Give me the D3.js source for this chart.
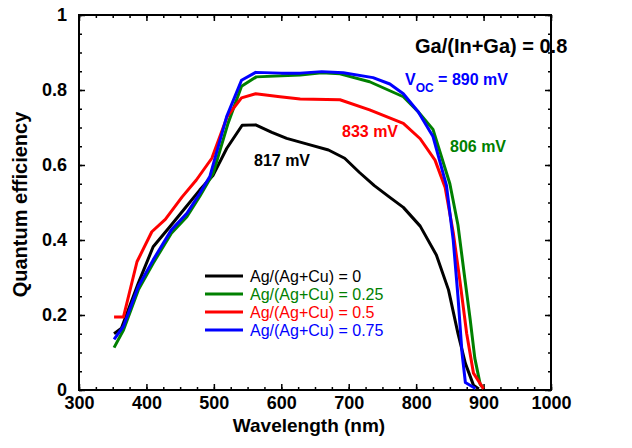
<!DOCTYPE html>
<html>
<head>
<meta charset="utf-8">
<script src="https://cdn.jsdelivr.net/npm/d3@7"></script>
<style>
  body { margin: 0; background: #fff; }
  svg { font-family: Arial, "Liberation Sans", sans-serif; }
</style>
</head>
<body>
<div id="chart"></div>
<script>
// quantum efficiency curves, [wavelength nm, QE]
var ag0 = [[352,0.15],[363,0.165],[388,0.285],[410,0.382],[435,0.436],[455,0.48],[479,0.533],[499,0.573],
  [519,0.644],[542,0.706],[562,0.707],[586,0.687],[608,0.671],[640,0.655],[670,0.64],[694,0.618],[716,0.58],
  [738,0.545],[760,0.515],[781,0.487],[806,0.437],[830,0.36],[848,0.267],[862,0.151],[873,0.071],[885,0.013],[893,0.003]];
var ag25 = [[352,0.113],[366,0.16],[388,0.267],[410,0.338],[437,0.418],[460,0.462],[479,0.516],[499,0.578],
  [521,0.711],[541,0.81],[563,0.835],[628,0.84],[660,0.846],[687,0.843],[731,0.822],[781,0.782],[803,0.742],
  [825,0.695],[850,0.55],[862,0.44],[872,0.3],[880,0.19],[887,0.085],[895,0.015],[900,0.005]];
var ag50 = [[352,0.195],[366,0.195],[386,0.342],[408,0.422],[428,0.455],[453,0.515],[474,0.56],[497,0.618],
  [520,0.73],[541,0.779],[562,0.79],[598,0.782],[628,0.776],[687,0.774],[731,0.747],[781,0.711],[806,0.67],
  [828,0.613],[843,0.54],[855,0.42],[865,0.29],[875,0.15],[885,0.045],[900,0.003]];
var ag75 = [[352,0.135],[366,0.17],[388,0.276],[410,0.347],[437,0.427],[460,0.471],[479,0.524],[494,0.569],
  [519,0.729],[541,0.826],[562,0.847],[600,0.845],[628,0.845],[660,0.849],[692,0.846],[736,0.833],[761,0.816],
  [781,0.79],[803,0.742],[825,0.676],[845,0.545],[855,0.4],[862,0.25],[868,0.1],[873,0.02],[888,0.004]];

var seriesNames = ["Ag/(Ag+Cu) = 0", "Ag/(Ag+Cu) = 0.25", "Ag/(Ag+Cu) = 0.5", "Ag/(Ag+Cu) = 0.75"];
var seriesData = [ag0, ag25, ag50, ag75];
var colors = ["#000000", "#008000", "#ff0000", "#0000ff"];

var xTicks = [300, 400, 500, 600, 700, 800, 900, 1000];
var yTicks = [0, 0.2, 0.4, 0.6, 0.8, 1];

var margin = { top: 15, right: 81, bottom: 58, left: 79 },
    width = 632 - margin.left - margin.right,
    height = 448 - margin.top - margin.bottom;

var x = d3.scaleLinear().domain([300, 1000]).range([0, width]);
var y = d3.scaleLinear().domain([0, 1]).range([height, 0]);

var svg = d3.select("#chart").append("svg")
    .attr("width", 632).attr("height", 448)
  .append("g")
    .attr("transform", "translate(" + margin.left + "," + margin.top + ")");

var minorX = d3.range(300, 1001, 25), minorY = d3.range(0, 1.001, 0.05);

function styleAxis(g) {
  g.select(".domain").remove();
  g.selectAll(".tick line").attr("stroke", "#000").attr("stroke-width", 1.5);
  g.selectAll("text").attr("font-size", 18).attr("font-weight", "bold").attr("fill", "#000");
}

// minor ticks, all four sides
svg.append("g").attr("transform", "translate(0," + height + ")")
  .call(d3.axisBottom(x).tickValues(minorX).tickSize(-3).tickFormat("")).call(styleAxis);
svg.append("g")
  .call(d3.axisTop(x).tickValues(minorX).tickSize(-3).tickFormat("")).call(styleAxis);
svg.append("g")
  .call(d3.axisLeft(y).tickValues(minorY).tickSize(-3).tickFormat("")).call(styleAxis);
svg.append("g").attr("transform", "translate(" + width + ",0)")
  .call(d3.axisRight(y).tickValues(minorY).tickSize(-3).tickFormat("")).call(styleAxis);

// major ticks with labels
svg.append("g").attr("transform", "translate(0," + height + ")")
  .call(d3.axisBottom(x).tickValues(xTicks).tickSize(-6).tickPadding(6).tickFormat(d3.format("d"))).call(styleAxis);
svg.append("g")
  .call(d3.axisLeft(y).tickValues(yTicks).tickSize(-6).tickPadding(12).tickFormat(function (d) { return d === 0 || d === 1 ? d : d3.format(".1f")(d); }))
  .call(styleAxis);
svg.append("g")
  .call(d3.axisTop(x).tickValues(xTicks).tickSize(-6).tickFormat("")).call(styleAxis);
svg.append("g").attr("transform", "translate(" + width + ",0)")
  .call(d3.axisRight(y).tickValues(yTicks).tickSize(-6).tickFormat("")).call(styleAxis);

svg.append("rect").attr("width", width).attr("height", height)
  .attr("fill", "none").attr("stroke", "#000").attr("stroke-width", 2);

var line = d3.line().x(function (d) { return x(d[0]); }).y(function (d) { return y(d[1]); });

svg.selectAll(".qe").data(seriesData).enter().append("path")
  .attr("class", "qe")
  .attr("d", line)
  .attr("fill", "none")
  .attr("stroke", function (d, i) { return colors[i]; })
  .attr("stroke-width", 3)
  .attr("stroke-linejoin", "round");

// axis titles
svg.append("text").attr("x", width / 2 - 6).attr("y", height + 42)
  .attr("text-anchor", "middle").attr("font-size", 19).attr("font-weight", "bold")
  .text("Wavelength (nm)");
svg.append("text").attr("transform", "translate(" + (-52) + "," + (height / 2 + 2) + ") rotate(-90)")
  .attr("text-anchor", "middle").attr("font-size", 20).attr("font-weight", "bold")
  .text("Quantum efficiency");

// legend
var legend = svg.append("g").attr("transform", "translate(126,261)");
seriesNames.forEach(function (name, i) {
  var row = legend.append("g").attr("transform", "translate(0," + (i * 18) + ")");
  row.append("line").attr("x1", 0).attr("x2", 38).attr("stroke", colors[i]).attr("stroke-width", 3);
  row.append("text").attr("x", 45).attr("y", 6).attr("font-size", 16).attr("fill", colors[i]).text(name);
});

// annotations
svg.append("text").attr("x", 336).attr("y", 38).attr("font-size", 20).attr("font-weight", "bold")
  .text("Ga/(In+Ga) = 0.8");
svg.append("text").attr("x", 175).attr("y", 151).attr("font-size", 16).attr("font-weight", "bold")
  .text("817 mV");
svg.append("text").attr("x", 263).attr("y", 122).attr("font-size", 16).attr("font-weight", "bold")
  .attr("fill", colors[2]).text("833 mV");
svg.append("text").attr("x", 371).attr("y", 137).attr("font-size", 16).attr("font-weight", "bold")
  .attr("fill", colors[1]).text("806 mV");
var voc = svg.append("text").attr("x", 326).attr("y", 70).attr("font-size", 16).attr("font-weight", "bold")
  .attr("fill", colors[3]);
voc.append("tspan").text("V");
voc.append("tspan").attr("font-size", 12).attr("dy", 7).text("OC");
voc.append("tspan").attr("dy", -7).text(" = 890 mV");
</script>
</body>
</html>
